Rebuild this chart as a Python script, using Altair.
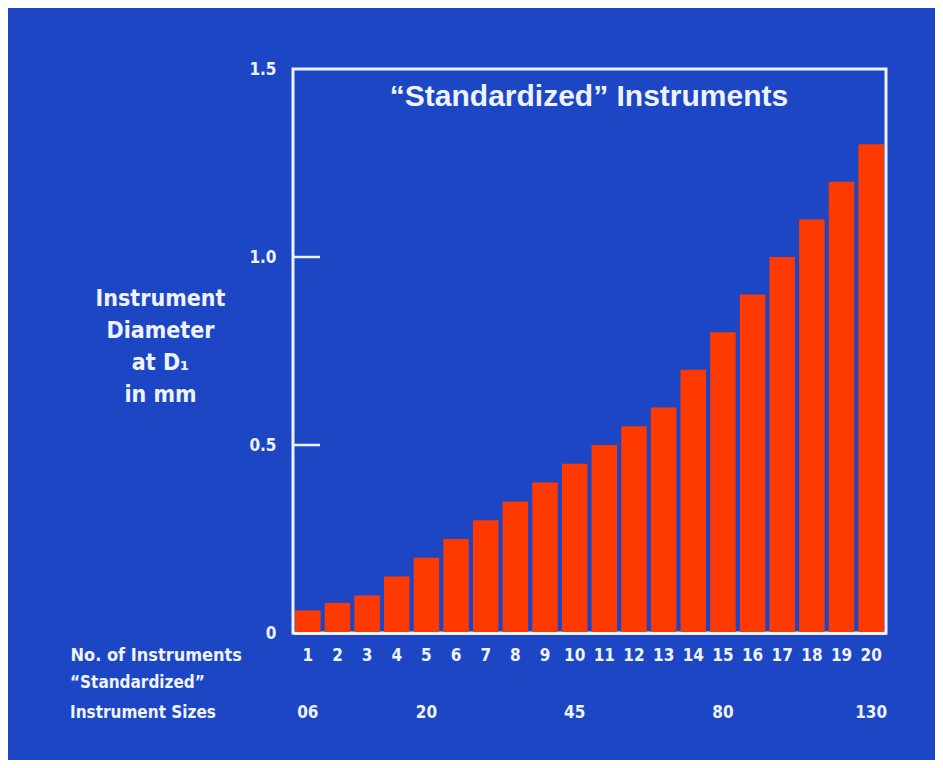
import altair as alt
import pandas as pd

# Data
instrument_no = list(range(1, 21))
diameter_mm = [0.06, 0.08, 0.10, 0.15, 0.20, 0.25, 0.30, 0.35, 0.40, 0.45,
               0.50, 0.55, 0.60, 0.70, 0.80, 0.90, 1.00, 1.10, 1.20, 1.30]
size_label_no = [1, 5, 10, 15, 20]
size_labels = ["06", "20", "45", "80", "130"]
y_tick_marks = [0.5, 1.0]

BLUE = "#1d46c4"
RED = "#ff3a00"
WHITE = "#eef3ff"
COND = "Liberation Sans Narrow, DejaVu Sans Condensed, sans-serif"
BOLD = "Liberation Sans, Arial, sans-serif"

bars_df = pd.DataFrame({"n": instrument_no, "d": diameter_mm})
sizes_df = pd.DataFrame({"n": size_label_no, "s": size_labels})
ticks_df = pd.DataFrame({"v": y_tick_marks})
left_df = pd.DataFrame({"t": ["\u201cStandardized\u201d\nInstrument Sizes"]})
title_df = pd.DataFrame({"t": ["\u201cStandardized\u201d Instruments"]})

x_scale = alt.Scale(paddingInner=0.14, paddingOuter=0.07)
y_scale = alt.Scale(domain=[0, 1.5], nice=False)

bars = alt.Chart(bars_df).mark_bar(color=RED).encode(
    x=alt.X("n:O", scale=x_scale, axis=alt.Axis(
        title="No. of Instruments", labelAngle=0, ticks=False, tickSize=0,
        domain=True, domainColor=WHITE, domainWidth=3, zindex=1,
        labelColor=WHITE, labelFont=COND, labelFontSize=17, labelFontWeight="bold",
        labelBaseline="middle", labelPadding=22,
        titleColor=WHITE, titleFont=COND, titleFontSize=18, titleFontWeight="bold",
        titleX=-223, titleY=22, titleAlign="left", titleBaseline="middle", titleAngle=0)),
    y=alt.Y("d:Q", scale=y_scale, axis=alt.Axis(
        values=[0, 0.5, 1.0, 1.5],
        labelExpr="datum.value == 0 ? '0' : format(datum.value, '.1f')",
        ticks=False, tickSize=0, domain=False, grid=False,
        labelColor=WHITE, labelFont=COND, labelFontSize=17, labelFontWeight="bold",
        labelPadding=17, labelBaseline="middle",
        title=["Instrument", "Diameter", "at D\u2081", "in mm"],
        titleColor=WHITE, titleFont=COND, titleFontSize=23, titleFontWeight="bold",
        titleAngle=0, titleX=-133, titleY=229, titleAlign="center",
        titleBaseline="middle", titleLineHeight=32)),
)

tick_rules = alt.Chart(ticks_df).mark_rule(color=WHITE, strokeWidth=2.5).encode(
    y=alt.Y("v:Q", scale=y_scale),
    x=alt.value(0),
    x2=alt.value(27),
)

sizes = alt.Chart(sizes_df).mark_text(
    color=WHITE, font=COND, fontSize=17, fontWeight="bold", baseline="middle"
).encode(
    x=alt.X("n:O", scale=x_scale),
    y=alt.value(644),
    text="s:N",
)

left_labels = alt.Chart(left_df).mark_text(
    color=WHITE, font=COND, fontSize=17, fontWeight="bold", align="left",
    baseline="middle", lineBreak="\n", lineHeight=30
).encode(
    x=alt.value(-223),
    y=alt.value(614),
    text="t:N",
)

title = alt.Chart(title_df).mark_text(
    color=WHITE, font=BOLD, fontSize=30, fontWeight="bold", align="center", baseline="middle"
).encode(
    x=alt.value(296),
    y=alt.value(28),
    text="t:N",
)

chart = alt.layer(bars, tick_rules, sizes, left_labels, title).properties(
    width=593,
    height=564,
    background=BLUE,
    padding={"left": 285, "top": 61, "right": 49, "bottom": 127},
    autosize=alt.AutoSizeParams(type="none"),
).configure_view(
    stroke=WHITE, strokeWidth=3
)

chart.save("out.html", embed_options={"renderer": "svg", "actions": False})
